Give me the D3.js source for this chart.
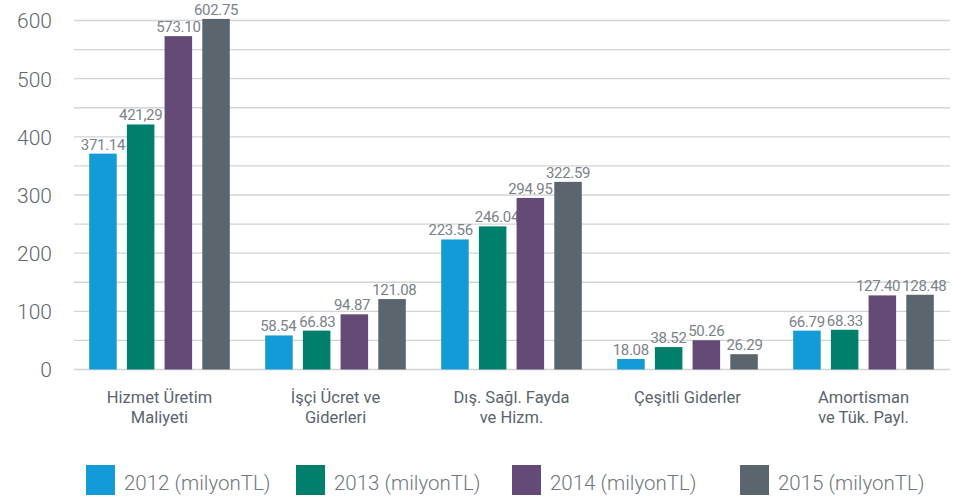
<!DOCTYPE html>
<html>
<head>
<meta charset="utf-8">
<script src="https://cdn.jsdelivr.net/npm/d3@7"></script>
<style>
  html, body { margin: 0; padding: 0; background: #ffffff; }
  svg { display: block; font-family: Roboto, "Noto Sans", sans-serif; }
</style>
</head>
<body>
<svg id="chart" width="970" height="500"></svg>
<script>
// Expense categories (each label split into lines)
const categories = [
  ["Hizmet Üretim", "Maliyeti"],
  ["İşçi Ücret ve", "Giderleri"],
  ["Dış. Sağl. Fayda", "ve Hizm."],
  ["Çeşitli Giderler"],
  ["Amortisman", "ve Tük. Payl."]
];
const seriesNames = ["2012 (milyonTL)", "2013 (milyonTL)", "2014 (milyonTL)", "2015 (milyonTL)"];
const seriesColors = ["#129bd7", "#007f6d", "#634a77", "#5b656e"];

// Values per year, in category order
const values2012 = [371.14, 58.54, 223.56, 18.08, 66.79];
const values2013 = [421.29, 66.83, 246.04, 38.52, 68.33];
const values2014 = [573.10, 94.87, 294.95, 50.26, 127.40];
const values2015 = [602.75, 121.08, 322.59, 26.29, 128.48];
// Printed value labels (as published)
const labels2012 = ["371.14", "58.54", "223.56", "18.08", "66.79"];
const labels2013 = ["421,29", "66.83", "246.04", "38.52", "68.33"];
const labels2014 = ["573.10", "94.87", "294.95", "50.26", "127.40"];
const labels2015 = ["602.75", "121.08", "322.59", "26.29", "128.48"];

const yTicks = [0, 100, 200, 300, 400, 500, 600];
const yGrid = [0, 50, 100, 150, 200, 250, 300, 350, 400, 450, 500, 550, 600];

const seriesValues = [values2012, values2013, values2014, values2015];
const seriesLabels = [labels2012, labels2013, labels2014, labels2015];

const svg = d3.select("#chart");

const plotLeft = 74, plotRight = 950;
const x0 = d3.scaleBand().domain(d3.range(categories.length)).range([71.5, 951.5]);
const x1 = d3.scaleBand().domain(d3.range(seriesNames.length))
  .range([-75.4, 75.4]).paddingInner(0.27).paddingOuter(0.135);
const y = d3.scaleLinear().domain([0, 600]).range([369.5, 20.5]);

// Gridlines
svg.append("g").selectAll("line").data(yGrid).join("line")
  .attr("x1", plotLeft).attr("x2", plotRight)
  .attr("y1", d => y(d)).attr("y2", d => y(d))
  .attr("stroke", "#d3d4d6").attr("stroke-width", 1.4);

// Y axis tick labels
const yAxis = d3.axisLeft(y).tickValues(yTicks).tickSize(0).tickPadding(0);
const yg = svg.append("g").attr("transform", "translate(52,0)").call(yAxis);
yg.select(".domain").remove();
yg.selectAll("text")
  .attr("font-family", "Roboto, 'Noto Sans', sans-serif")
  .attr("font-weight", 300)
  .attr("font-size", 21).attr("fill", "#5d6770").attr("dy", "0.35em");

// Bars and value labels
const groups = svg.append("g").selectAll("g").data(categories).join("g")
  .attr("transform", (d, i) => `translate(${x0(i) + x0.bandwidth() / 2},0)`);

groups.each(function(cat, ci) {
  const g = d3.select(this);
  const texts = [];
  seriesValues.forEach((vals, si) => {
    const v = vals[ci];
    g.append("rect")
      .attr("x", x1(si)).attr("width", x1.bandwidth())
      .attr("y", y(v)).attr("height", y(0) - y(v))
      .attr("fill", seriesColors[si]);
    texts.push(g.append("text")
      .attr("x", x1(si) + x1.bandwidth() / 2).attr("y", y(v) - 4)
      .attr("text-anchor", "middle")
      .attr("font-size", 15).attr("letter-spacing", -0.3).attr("fill", "#7b828a")
      .text(seriesLabels[si][ci]));
  });
  // Push apart neighbouring value labels that sit at nearly the same height
  for (let i = 0; i < texts.length - 1; i++) {
    const a = texts[i].node().getBBox(), b = texts[i + 1].node().getBBox();
    const vOverlap = Math.min(a.y + a.height, b.y + b.height) - Math.max(a.y, b.y);
    const hOverlap = a.x + a.width + 2 - b.x;
    if (vOverlap > 2 && hOverlap > 0) {
      texts[i].attr("x", +texts[i].attr("x") - hOverlap / 2);
      texts[i + 1].attr("x", +texts[i + 1].attr("x") + hOverlap / 2);
    }
  }
  // Category label
  const t = g.append("text").attr("text-anchor", "middle")
    .attr("font-size", 16.5).attr("fill", "#5a646e");
  cat.forEach((line, li) => {
    t.append("tspan").attr("x", 0).attr("y", 403 + li * 20).text(line);
  });
});

// Legend
const legendX = [86, 296, 512, 740];
const legend = svg.append("g").selectAll("g").data(seriesNames).join("g")
  .attr("transform", (d, i) => `translate(${legendX[i]},465)`);
legend.append("rect").attr("width", 29).attr("height", 30)
  .attr("fill", (d, i) => seriesColors[i]);
legend.append("text").attr("x", 38).attr("y", 25)
  .attr("font-size", 20.5).attr("font-weight", 300).attr("fill", "#6f777f")
  .text(d => d);
</script>
</body>
</html>
